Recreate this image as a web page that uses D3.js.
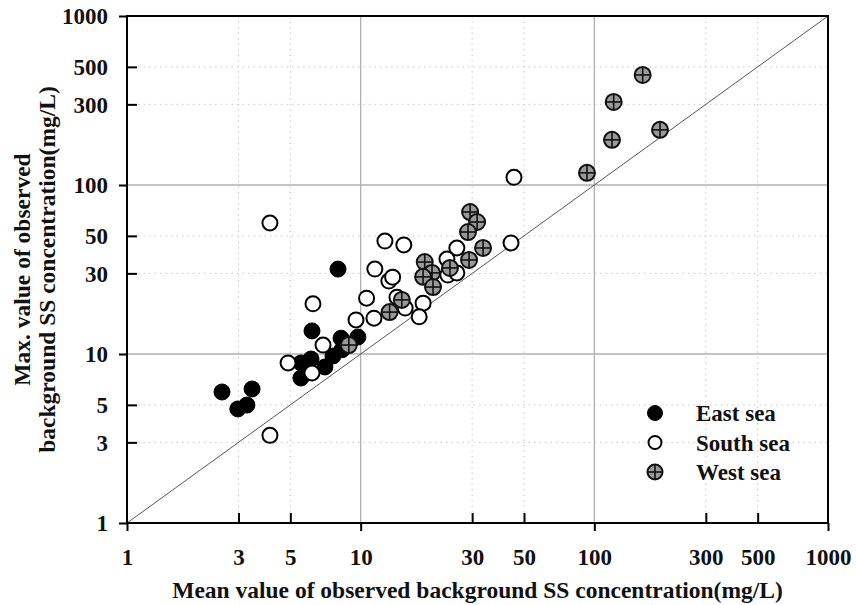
<!DOCTYPE html>
<html>
<head>
<meta charset="utf-8">
<script src="https://cdn.jsdelivr.net/npm/d3@7"></script>
<style>
  body { margin: 0; background: #fff; }
  svg text { font-family: "Liberation Serif", "Times New Roman", serif; font-weight: bold; fill: #111; }
</style>
</head>
<body>
<div id="chart"></div>
<script>
// values (mg/L)
const eastMean = [2.55, 3.43, 2.98, 3.26, 8.0, 6.19, 5.55, 6.13, 5.55, 7.03, 7.61, 8.24, 8.74, 9.73, 8.32];
const eastMax  = [5.96, 6.21, 4.73, 4.99, 31.8, 13.7, 8.85, 9.34, 7.21, 8.38, 9.73, 12.4, 11.5, 12.6, 10.6];

const southMean = [4.09, 4.09, 6.25, 4.89, 6.9, 6.19, 9.55, 10.6, 11.4, 11.5, 12.7, 15.3, 13.2, 13.7, 14.3, 15.5, 18.5, 17.8, 25.8, 23.4, 23.6, 25.8, 44.0, 45.3];
const southMax  = [59.6, 3.3, 19.8, 8.85, 11.3, 7.72, 15.9, 21.4, 16.3, 31.8, 46.6, 44.2, 27.0, 28.5, 21.7, 18.7, 20.0, 16.6, 42.4, 36.5, 29.3, 30.2, 45.4, 111];

const westMean = [29.4, 31.5, 28.8, 33.4, 29.1, 18.8, 20.2, 24.1, 18.5, 20.4, 15.0, 13.3, 8.9, 161, 121, 119, 191, 93];
const westMax  = [69.2, 60.4, 52.7, 42.4, 36.0, 35.0, 30.2, 32.3, 28.6, 24.9, 20.9, 17.7, 11.3, 448, 310, 185, 212, 118];

const tickVals = [1, 3, 5, 10, 30, 50, 100, 300, 500, 1000];
const majorVals = [1, 10, 100, 1000];
const legendNames = ["East sea", "South sea", "West sea"];

const W = 856, H = 605;
const margin = {top: 16, right: 28, bottom: 82, left: 127};
const width = W - margin.left - margin.right,
      height = H - margin.top - margin.bottom;

const svg = d3.select("#chart").append("svg")
    .attr("width", W).attr("height", H);
const g = svg.append("g")
    .attr("transform", `translate(${margin.left},${margin.top})`);

const x = d3.scaleLog().domain([1, 1000]).range([0, width]);
const y = d3.scaleLog().domain([1, 1000]).range([height, 0]);

// grid
const minorVals = tickVals.filter(v => !majorVals.includes(v));
g.selectAll(".vminor").data(minorVals).enter().append("line")
    .attr("x1", d => x(d)).attr("x2", d => x(d))
    .attr("y1", 0).attr("y2", height)
    .attr("stroke", "#c8c8c8").attr("stroke-dasharray", "1.5,4");
g.selectAll(".hminor").data(minorVals).enter().append("line")
    .attr("y1", d => y(d)).attr("y2", d => y(d))
    .attr("x1", 0).attr("x2", width)
    .attr("stroke", "#c8c8c8").attr("stroke-dasharray", "1.5,4");
g.selectAll(".vmajor").data([10, 100]).enter().append("line")
    .attr("x1", d => x(d)).attr("x2", d => x(d))
    .attr("y1", 0).attr("y2", height)
    .attr("stroke", "#b0b0b0").attr("stroke-width", 1.3);
g.selectAll(".hmajor").data([10, 100]).enter().append("line")
    .attr("y1", d => y(d)).attr("y2", d => y(d))
    .attr("x1", 0).attr("x2", width)
    .attr("stroke", "#b0b0b0").attr("stroke-width", 1.3);

// 1:1 line
g.append("line")
    .attr("x1", x(1)).attr("y1", y(1))
    .attr("x2", x(1000)).attr("y2", y(1000))
    .attr("stroke", "#555").attr("stroke-width", 1);

// axes
const xAxis = g.append("g")
    .attr("transform", `translate(0,${height})`)
    .call(d3.axisBottom(x).tickValues(tickVals).tickFormat(d3.format("d")).tickSizeOuter(0));
xAxis.select(".domain").remove();
xAxis.selectAll(".tick line")
    .attr("y1", d => majorVals.includes(d) ? 0 : -10)
    .attr("y2", d => majorVals.includes(d) ? 8 : 0)
    .attr("stroke", "#000").attr("stroke-width", 2);
xAxis.selectAll(".tick text")
    .attr("y", 26).attr("dy", "0.71em")
    .style("font-size", "23px").style("font-family", "Liberation Serif, serif").attr("fill", "#111");

const yAxis = g.append("g")
    .call(d3.axisLeft(y).tickValues(tickVals).tickFormat(d3.format("d")).tickSizeOuter(0));
yAxis.select(".domain").remove();
yAxis.selectAll(".tick line")
    .attr("x1", d => majorVals.includes(d) ? 0 : 10)
    .attr("x2", d => majorVals.includes(d) ? -8 : 0)
    .attr("stroke", "#000").attr("stroke-width", 2);
yAxis.selectAll(".tick text")
    .attr("x", -19).attr("dy", "0.34em")
    .style("font-size", "23px").style("font-family", "Liberation Serif, serif").attr("fill", "#111");

// frame
g.append("rect")
    .attr("x", 0).attr("y", 0).attr("width", width).attr("height", height)
    .attr("fill", "none").attr("stroke", "#000").attr("stroke-width", 2);

// points
const r = 8;
function eastMark(sel, cx, cy, rr) {
    sel.append("circle").attr("cx", cx).attr("cy", cy).attr("r", rr)
        .attr("fill", "#000").attr("stroke", "#000").attr("stroke-width", 1);
}
function southMark(sel, cx, cy, rr) {
    sel.append("circle").attr("cx", cx).attr("cy", cy).attr("r", rr)
        .attr("fill", "#fff").attr("stroke", "#000").attr("stroke-width", 2);
}
function westMark(sel, cx, cy, rr) {
    sel.append("circle").attr("cx", cx).attr("cy", cy).attr("r", rr)
        .attr("fill", "#9a9a9a").attr("stroke", "#111").attr("stroke-width", 2);
    sel.append("line").attr("x1", cx - rr).attr("x2", cx + rr).attr("y1", cy).attr("y2", cy)
        .attr("stroke", "#111").attr("stroke-width", 1.6);
    sel.append("line").attr("x1", cx).attr("x2", cx).attr("y1", cy - rr).attr("y2", cy + rr)
        .attr("stroke", "#111").attr("stroke-width", 1.6);
}

const pts = g.append("g");
eastMean.forEach((m, i) => eastMark(pts, x(m), y(eastMax[i]), r));
southMean.forEach((m, i) => southMark(pts, x(m), y(southMax[i]), r - 0.5));
westMean.forEach((m, i) => westMark(pts, x(m), y(westMax[i]), r));

// legend
const legend = svg.append("g").attr("transform", "translate(655,413)");
const markers = [eastMark, southMark, westMark];
legendNames.forEach((name, i) => {
    const row = legend.append("g").attr("transform", `translate(0,${i * 29.5})`);
    markers[i](row, 0, 0, i === 1 ? 6.5 : 7.5);
    row.append("text").attr("x", 41).attr("y", 8)
        .style("font-size", "23px").text(name);
});

// axis titles
svg.append("text")
    .attr("x", margin.left + width / 2).attr("y", 598)
    .attr("text-anchor", "middle")
    .style("font-size", "23.5px")
    .text("Mean value of observed background SS concentration(mg/L)");

const yt = svg.append("g").attr("transform", `translate(0,${margin.top + height / 2}) rotate(-90)`);
yt.append("text").attr("x", 0).attr("y", 30).attr("text-anchor", "middle")
    .style("font-size", "23.5px").text("Max. value of observed");
yt.append("text").attr("x", 0).attr("y", 55).attr("text-anchor", "middle")
    .style("font-size", "23.5px").text("background SS concentration(mg/L)");
</script>
</body>
</html>
